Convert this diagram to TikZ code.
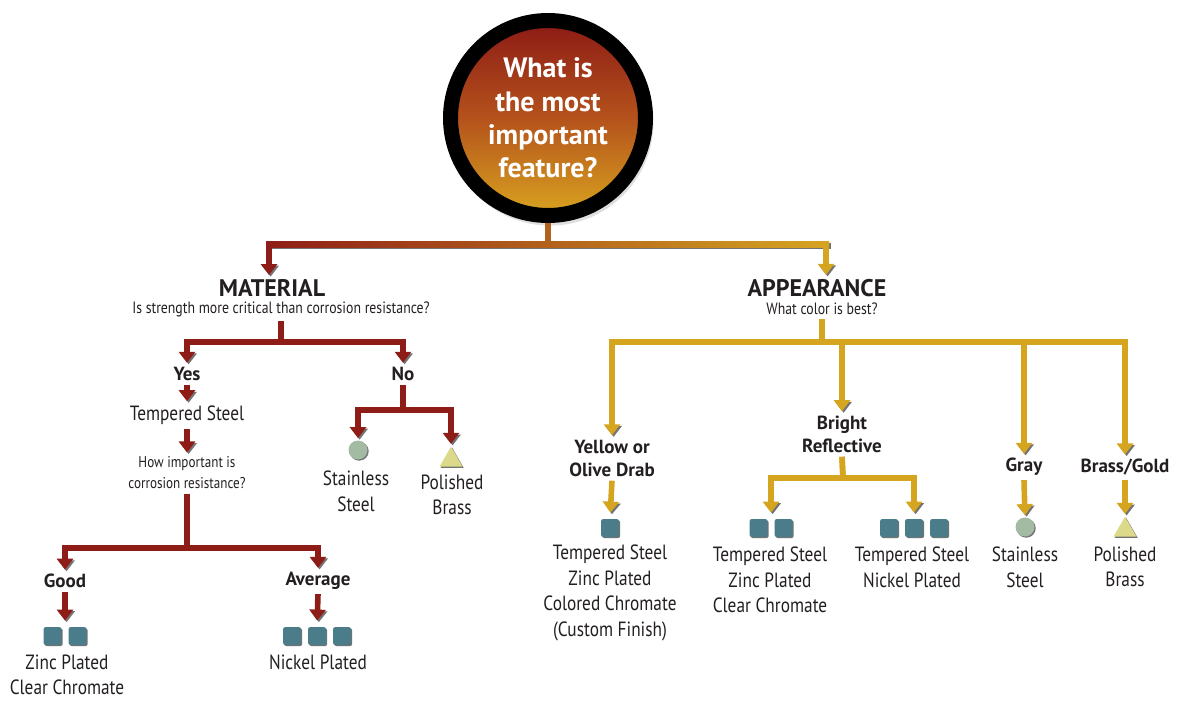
\documentclass[tikz,border=0pt]{standalone}
\usepackage{fontspec}
\setmainfont{PT Sans}[FakeStretch=0.84]
\newfontfamily\badgefont{PT Sans}
\usetikzlibrary{arrows.meta,shapes.geometric,shadows}

\definecolor{arrowred}{HTML}{8F1D17}
\definecolor{arrowgold}{HTML}{D6A520}
\definecolor{stemorange}{HTML}{B3621E}
\definecolor{inkgray}{HTML}{231F20}
\definecolor{tilesteel}{HTML}{4A7C8A}
\definecolor{stainless}{HTML}{A3BBA3}
\definecolor{brassy}{HTML}{DDD98A}
\definecolor{badgetop}{HTML}{8C1A15}
\definecolor{badgemid}{HTML}{B4521C}
\definecolor{badgebot}{HTML}{D9A41F}

\newcommand\tilerow[3]{%
  \node[tileslot, minimum width={(#3*25-7)*0.5pt}] (#1) at (#2) {};
  \foreach \k in {1,...,#3}
    \node[tile] at ([xshift={(\k-(#3+1)/2)*12.5pt}]#1.center) {};}

\begin{document}
\begin{tikzpicture}[x=0.5pt,y=-0.5pt,
  every node/.style={text=inkgray, align=center, inner sep=2pt},
  flow/.style={line width=2.8pt, line join=miter, -{Triangle[width=8pt,length=5.5pt]},
    preaction={draw=black!55, transform canvas={shift={(0.8pt,-0.8pt)}}}},
  redflow/.style={flow, draw=arrowred},
  goldflow/.style={flow, draw=arrowgold},
  badge/.style={circle, minimum size=97.5pt, line width=7.5pt, draw=black, outer sep=3.75pt,
    top color=badgetop, bottom color=badgebot, middle color=badgemid, text=white,
    font=\badgefont\bfseries\fontsize{14}{16.6}\selectfont,
    drop shadow={shadow scale=1.06, shadow xshift=1pt, shadow yshift=-2pt, opacity=.25}},
  heading/.style={font=\badgefont\bfseries\fontsize{12}{13}\selectfont},
  asks/.style={font=\fontsize{8.2}{10}\selectfont},
  choice/.style={font=\badgefont\bfseries\fontsize{9.5}{11.5}\selectfont},
  finish/.style={font=\fontsize{10.3}{12.8}\selectfont},
  tileslot/.style={minimum height=9pt, inner sep=0pt},
  tile/.style={fill=tilesteel, rounded corners=1.2pt, minimum size=9pt, inner sep=0pt,
    preaction={fill=black!55, transform canvas={shift={(0.6pt,-0.6pt)}}}},
  stone/.style={circle, fill=stainless, minimum size=9.5pt, inner sep=0pt,
    preaction={fill=black!55, transform canvas={shift={(0.6pt,-0.6pt)}}}},
  brassmark/.style={regular polygon, regular polygon sides=3, fill=brassy, minimum size=13.3pt, inner sep=0pt,
    preaction={fill=black!55, transform canvas={shift={(0.6pt,-0.6pt)}}}}]

  \useasboundingbox (0,0) rectangle (1183,701);

  % question and first split
  \coordinate (split) at (548,244);
  \draw[line width=2.8pt, draw=stemorange] (548,200) -- (split);
  \node[badge] (feature) at (548,118) {What is\\the most\\important\\feature?};
  \shade[left color=arrowred, right color=arrowgold,
    preaction={fill=black!55, transform canvas={shift={(0.8pt,-0.8pt)}}}] (266,241) rectangle (829,247);
  \draw[line width=2.8pt, draw=stemorange] (feature.south) -- (split);

  \node[heading] (material) at (272,288) {MATERIAL};
  \node[asks] (strength) at (281,309) {Is strength more critical than corrosion resistance?};
  \node[heading] (appearance) at (817,288) {APPEARANCE};
  \node[asks] (colour) at (822,309) {What color is best?};
  \coordinate (matdrop) at (269,245);
  \coordinate (appdrop) at (826,245);
  \draw[redflow] (matdrop) -- (matdrop |- material.north);
  \draw[goldflow] (appdrop) -- (appdrop |- appearance.north);

  % material
  \coordinate (matbar) at (281,342);
  \node[choice] (yes) at (187,374) {Yes};
  \node[choice] (no) at (403,374) {No};
  \draw[redflow] (strength.south) -- (matbar) -| (yes.north);
  \draw[redflow] (strength.south) -- (matbar) -| (no.north);

  \node[finish] (tempered) at (187,415) {Tempered Steel};
  \node[asks, font=\fontsize{7.8}{10.5}\selectfont] (howmuch) at (187,473) {How important is\\corrosion resistance?};
  \draw[redflow] (yes.south) -- (tempered.north);
  \draw[redflow] (tempered.south) -- (howmuch.north);

  \coordinate (corrbar) at (187,548);
  \node[choice] (good) at (65,581) {Good};
  \node[choice] (average) at (318,581) {Average};
  \draw[redflow] (howmuch.south) -- (corrbar) -| (good.north);
  \draw[redflow] (howmuch.south) -- (corrbar) -| (average.north);

  \tilerow{goodtiles}{65,636}{2}
  \tilerow{avgtiles}{317,636}{3}
  \draw[redflow, shorten >=3pt] (good.south) -- (goodtiles.north);
  \draw[redflow, shorten >=3pt] (average.south) -- (avgtiles.north);
  \node[finish] (zincclear) at (67,675) {Zinc Plated\\Clear Chromate};
  \node[finish] (nickel) at (318,662) {Nickel Plated};

  \coordinate (nobar) at (403,410);
  \node[stone] (nosteel) at (358,450) {};
  \node[brassmark] (nobrass) at (451,460) {};
  \draw[redflow, shorten >=1pt] (no.south) -- (nobar) -| (nosteel.north);
  \draw[redflow, shorten >=1pt] (no.south) -- (nobar) -| (nobrass.north);
  \node[finish] (nostainless) at (356,491) {Stainless\\Steel};
  \node[finish] (nopolished) at (452,495) {Polished\\Brass};

  % appearance
  \coordinate (colourbar) at (822,342);
  \node[choice] (yellow) at (612,458) {Yellow or\\Olive Drab};
  \node[choice] (bright) at (842,434) {Bright\\Reflective};
  \node[choice] (gray) at (1024,467) {Gray};
  \node[choice] (brassgold) at (1125,467) {Brass/Gold};
  \foreach \n in {yellow,bright,gray,brassgold}
    \draw[goldflow] (colour.south) -- (colourbar) -| (\n.north);

  \coordinate (brightbar) at (843,478);
  \tilerow{yeltiles}{610,528}{1}
  \tilerow{zinctiles}{771,528}{2}
  \tilerow{nickeltiles}{914,528}{3}
  \node[stone] (graysteel) at (1025,527) {};
  \node[brassmark] (goldbrass) at (1125,530) {};
  \draw[goldflow, shorten >=3pt] (yellow.south) -- (yeltiles.north);
  \draw[goldflow, shorten >=3pt] (bright.south) -- (brightbar) -| (zinctiles.north);
  \draw[goldflow, shorten >=3pt] (bright.south) -- (brightbar) -| (nickeltiles.north);
  \draw[goldflow, shorten >=1pt] (gray.south) -- (graysteel.north);
  \draw[goldflow, shorten >=1pt] (brassgold.south) -- (goldbrass.north);

  \node[finish] (colored) at (610,593) {Tempered Steel\\Zinc Plated\\Colored Chromate\\(Custom Finish)};
  \node[finish] (clear) at (770,580) {Tempered Steel\\Zinc Plated\\Clear Chromate};
  \node[finish] (nickelled) at (912,567) {Tempered Steel\\Nickel Plated};
  \node[finish] (stainless) at (1025,567) {Stainless\\Steel};
  \node[finish] (polished) at (1125,567) {Polished\\Brass};
\end{tikzpicture}
\end{document}
